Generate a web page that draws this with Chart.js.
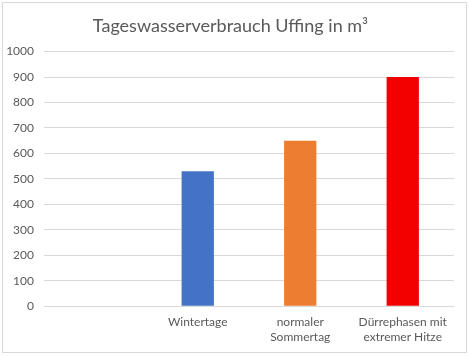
<!DOCTYPE html>
<html>
<head>
<meta charset="utf-8">
<script src="https://cdn.jsdelivr.net/npm/chart.js@4"></script>
<style>
  body { margin: 0; background: #fff; }
  #box {
    position: absolute; left: 2px; top: 2px;
    width: 463px; height: 349px;
    border: 1px solid #d9d9d9;
  }
</style>
</head>
<body>
<div id="box"><canvas id="WasserChart"></canvas></div>
<script>
// Tageswasserverbrauch
const categories = ["", "Wintertage", ["normaler", "Sommertag"], ["Dürrephasen mit", "extremer Hitze"]];
const verbrauch = [null, 530, 650, 900];
const barColors = ["#4472C4", "#4472C4", "#ED7D31", "#F20000"];
const yTicks = { min: 0, max: 1000, step: 100 };

const dataW = {
  labels: categories,
  datasets: [
    {
      label: "Verbrauch",
      data: verbrauch,
      backgroundColor: barColors,
      categoryPercentage: 1,
      barPercentage: 0.315,
    },
  ],
};

const configW = {
  type: "bar",
  data: dataW,
  options: {
    responsive: true,
    maintainAspectRatio: false,
    animation: false,
    layout: { padding: { top: 4, right: 12, bottom: 7, left: 4 } },
    plugins: {
      legend: { display: false },
      tooltip: { enabled: false },
      title: {
        display: true,
        text: "Tageswasserverbrauch Uffing in m³",
        color: "#595959",
        font: { family: "Lato", size: 18, weight: "normal" },
        padding: { top: 8, bottom: 15 },
      },
    },
    scales: {
      x: {
        grid: { display: false },
        border: { display: false },
        ticks: {
          color: "#595959",
          font: { family: "Lato", size: 12 },
          padding: 1,
          maxRotation: 0,
        },
      },
      y: {
        min: yTicks.min,
        max: yTicks.max,
        border: { display: false },
        grid: { color: "#d9d9d9", drawTicks: false },
        afterFit: (scale) => { scale.width = 37; },
        ticks: {
          stepSize: yTicks.step,
          color: "#595959",
          font: { family: "Lato", size: 12 },
          padding: 10,
          callback: (v) => String(v),
        },
      },
    },
  },
};

const WasserChart = new Chart(document.getElementById("WasserChart"), configW);
</script>
</body>
</html>
